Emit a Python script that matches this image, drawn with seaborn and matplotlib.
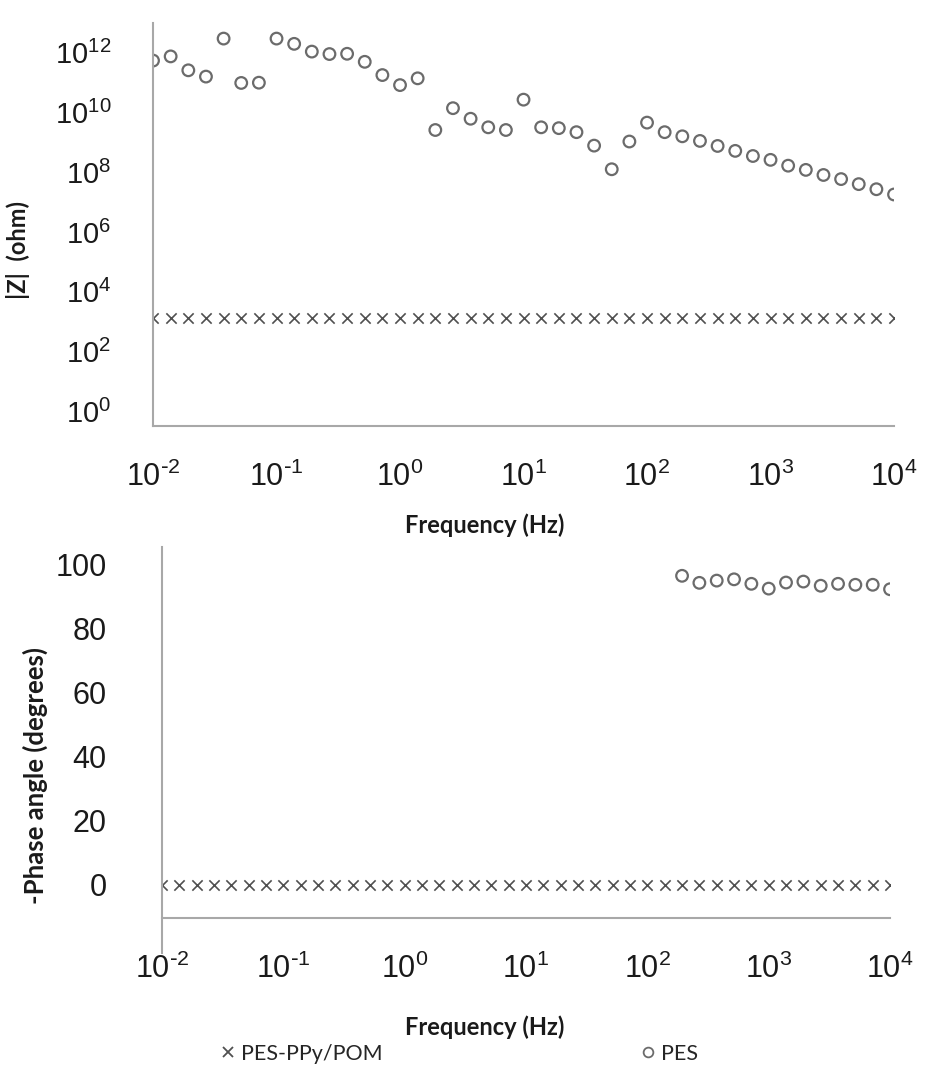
import matplotlib
matplotlib.use('Agg')
import matplotlib.pyplot as plt
import seaborn as sns
from matplotlib.lines import Line2D

sns.set_style('white')
plt.rcParams['font.family'] = ['Lato', 'DejaVu Sans']

# frequencies (Hz), 7 points per decade
freq = [0.01, 0.01389, 0.01931, 0.02683, 0.03728, 0.05179, 0.07197,
        0.1, 0.1389, 0.1931, 0.2683, 0.3728, 0.5179, 0.7197,
        1, 1.389, 1.931, 2.683, 3.728, 5.179, 7.197,
        10, 13.89, 19.31, 26.83, 37.28, 51.79, 71.97,
        100, 138.9, 193.1, 268.3, 372.8, 517.9, 719.7,
        1000, 1389, 1931, 2683, 3728, 5179, 7197,
        10000]

# |Z| (ohm)
z_ppy = [1.32e3] * 43
z_pes = [5.5e11, 7.6e11, 2.6e11, 1.6e11, 3.0e12, 9.8e10, 1.0e11,
         3.0e12, 2.0e12, 1.1e12, 9.1e11, 9.3e11, 5.0e11, 1.8e11,
         8.3e10, 1.4e11, 2.6e9, 1.4e10, 6.2e9, 3.2e9, 2.6e9,
         2.7e10, 3.2e9, 3.0e9, 2.2e9, 7.8e8, 1.26e8, 1.07e9,
         4.6e9, 2.2e9, 1.6e9, 1.12e9, 7.6e8, 5.2e8, 3.5e8,
         2.6e8, 1.66e8, 1.2e8, 8.1e7, 5.9e7, 4.0e7, 2.7e7,
         1.8e7]

# -phase angle (degrees)
phase_ppy = [0] * 43
freq_pes_phase = [193.1, 268.3, 372.8, 517.9, 719.7, 1000, 1389,
                  1931, 2683, 3728, 5179, 7197, 10000]
phase_pes = [96.6, 94.4, 95.1, 95.5, 94.1, 92.6, 94.5,
             94.8, 93.5, 94.1, 93.8, 93.8, 92.4]

decades = [0.01, 0.1, 1, 10, 100, 1000, 10000]
decade_labels = [r'$\mathregular{10^{\text{-}2}}$', r'$\mathregular{10^{\text{-}1}}$',
                 r'$\mathregular{10^{0}}$', r'$\mathregular{10^{1}}$', r'$\mathregular{10^{2}}$',
                 r'$\mathregular{10^{3}}$', r'$\mathregular{10^{4}}$']
z_ticks = [1e0, 1e2, 1e4, 1e6, 1e8, 1e10, 1e12]
z_labels = [r'$\mathregular{10^{%d}}$' % p for p in [0, 2, 4, 6, 8, 10, 12]]
phase_ticks = [-20, 0, 20, 40, 60, 80, 100]
phase_labels = ['', '0', '20', '40', '60', '80', '100']

axis_gray = '#a8a8a8'
circ_col = '#6b6b6b'
cross_col = '#505050'
text_col = '#1a1a1a'

fig = plt.figure(figsize=(9.28, 10.89), dpi=100)
ax1 = fig.add_axes([0.1649, 0.6088, 0.7985, 0.3701])
ax2 = fig.add_axes([0.1746, 0.1249, 0.7845, 0.3728])

# top: impedance modulus
sns.scatterplot(x=freq, y=z_ppy, ax=ax1, marker='x', s=55, color=cross_col, linewidth=1.2)
sns.scatterplot(x=freq, y=z_pes, ax=ax1, marker='o', s=70, color=circ_col,
                facecolor='none', edgecolor=circ_col, linewidth=1.6)
ax1.set_xscale('log')
ax1.set_yscale('log')
ax1.set_xlim(1e-2, 1e4)
ax1.set_ylim(10 ** -0.5, 10 ** 13.0)
ax1.set_yticks(z_ticks)
ax1.set_yticklabels(z_labels)

# bottom: phase angle
sns.scatterplot(x=freq, y=phase_ppy, ax=ax2, marker='x', s=55, color=cross_col, linewidth=1.2)
sns.scatterplot(x=freq_pes_phase, y=phase_pes, ax=ax2, marker='o', s=70, color=circ_col,
                facecolor='none', edgecolor=circ_col, linewidth=1.6)
ax2.set_xscale('log')
ax2.set_xlim(1e-2, 1e4)
ax2.set_ylim(-21.25, 105.6)
ax2.set_yticks(phase_ticks)
ax2.set_yticklabels(phase_labels)
ax2.spines['bottom'].set_position(('data', -10.3))

for ax, ypad, ysize in [(ax1, 24, 21), (ax2, 34, 22)]:
    ax.set_xticks(decades)
    ax.set_xticklabels(decade_labels)
    ax.minorticks_off()
    for side in ['top', 'right']:
        ax.spines[side].set_visible(False)
    for side in ['left', 'bottom']:
        ax.spines[side].set_color(axis_gray)
        ax.spines[side].set_linewidth(1.5)
    ax.tick_params(axis='both', which='major', direction='out', length=6, width=1.2,
                   color=axis_gray, labelcolor=text_col)
    ax.tick_params(axis='y', pad=ypad, labelsize=ysize)
    ax.tick_params(axis='x', pad=20, labelsize=22)
    for lab in ax.get_xticklabels() + ax.get_yticklabels():
        lab.set_fontfamily('Liberation Sans')

ax1.set_ylabel('|Z|  (ohm)', fontweight='bold', fontsize=17, color=text_col)
ax1.yaxis.set_label_coords(-0.182, 0.437)
ax1.yaxis.label.set_va('center')
ax1.set_xlabel('Frequency (Hz)', fontweight='bold', fontsize=17, color=text_col)
ax1.xaxis.set_label_coords(0.448, -0.2457)
ax1.xaxis.label.set_va('center')

ax2.set_ylabel('-Phase angle (degrees)', fontweight='bold', fontsize=18.5, color=text_col)
ax2.yaxis.set_label_coords(-0.1745, 0.438)
ax2.yaxis.label.set_va('center')
ax2.set_xlabel('Frequency (Hz)', fontweight='bold', fontsize=17, color=text_col)
ax2.xaxis.set_label_coords(0.4437, -0.182)
ax2.xaxis.label.set_va('center')

handles = [Line2D([], [], marker='x', ls='none', color=cross_col, markersize=7, markeredgewidth=1.3),
           Line2D([], [], marker='o', ls='none', markerfacecolor='none', markeredgecolor=circ_col,
                  markersize=7, markeredgewidth=1.3)]
fig.legend(handles, ['PES-PPy/POM', 'PES'], loc='center left',
           bbox_to_anchor=(222 / 928, 1 - 1054 / 1089), ncol=2, frameon=False, fontsize=15.5,
           handlelength=0.6, handletextpad=0.3, columnspacing=12, borderaxespad=0, borderpad=0)

fig.savefig('out.png', dpi=100)
